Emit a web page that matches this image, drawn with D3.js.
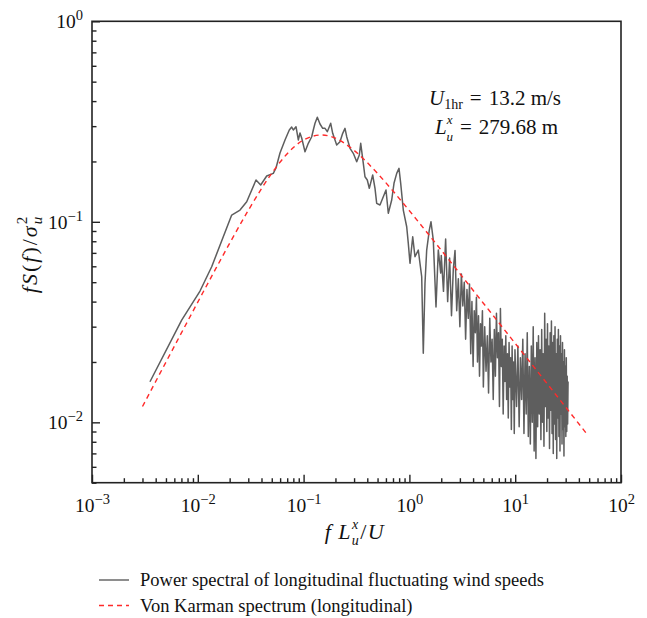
<!DOCTYPE html>
<html><head><meta charset="utf-8">
<script src="https://cdn.jsdelivr.net/npm/d3@7/dist/d3.min.js"></script>
<style>html,body{margin:0;padding:0;background:#fff;}svg{display:block;}</style>
</head><body>
<svg id="chart" width="647" height="618"></svg>
<script>
// ---- data ----
const xTickExps = [-3, -2, -1, 0, 1, 2];
const yTickExps = [-2, -1, 0];
const minorMults = [2, 3, 4, 5, 6, 7, 8, 9];

// Von Karman spectrum
const vkX = [0.003,0.005,0.007,0.01,0.015,0.02,0.03,0.04,0.05,0.07,0.1,0.15,0.2,0.3,0.5,0.7,1,1.5,2,3,5,7,10,15,20,30,48];
const vkY = [0.01199,0.01997,0.02792,0.03977,0.05921,0.07816,0.11398,0.14631,0.17460,0.21846,0.25605,0.27122,0.26116,0.22708,0.17424,0.14235,0.11357,0.08725,0.07218,0.05517,0.03928,0.03141,0.02476,0.01890,0.01561,0.01191,0.00870];

// Measured spectrum, low / mid frequency part
const specLowX = [0.00353,0.00704,0.01049,0.01353,0.02091,0.02506,0.02899,0.03549,0.03930,0.04479,0.05171,0.05483,0.05982,0.06673,0.07325,0.07718,0.07991,0.08477,0.08913,0.09247,0.09594,0.1031,0.1108,0.1193,0.1235,0.1282,0.1348,0.1429,0.1516,0.1594,0.1675,0.1804,0.1884,0.2055,0.2208,0.2342,0.2462,0.2555,0.2746,0.2950,0.3177,0.3362,0.3466,0.3667,0.3804,0.4000,0.4178,0.4498,0.4730,0.4908,0.5273,0.5666,0.6009,0.6318,0.6803,0.7152,0.7586,0.7975,0.8275,0.8757,0.9430,0.9763,1.013,1.075,1.129,1.214,1.259,1.307,1.353,1.404,1.457,1.542,1.600,1.682,1.784,1.876,1.976];
const specLowY = [0.01594,0.03237,0.04517,0.05972,0.1081,0.1145,0.1259,0.1616,0.1526,0.1692,0.1745,0.1855,0.2203,0.2559,0.2870,0.2970,0.2870,0.2980,0.2559,0.2773,0.2618,0.2236,0.2463,0.2657,0.2870,0.3100,0.3321,0.3075,0.2926,0.2926,0.2815,0.3100,0.2763,0.2415,0.2509,0.2763,0.2926,0.2657,0.2326,0.2196,0.1994,0.2154,0.2463,0.1958,0.1678,0.1616,0.1469,0.1712,0.1469,0.1237,0.1213,0.1334,0.1441,0.1103,0.1285,0.1556,0.1745,0.1848,0.1556,0.1145,0.0945,0.0781,0.0621,0.0842,0.0670,0.0723,0.0621,0.0532,0.0221,0.0494,0.0723,0.0910,0.1001,0.0811,0.0376,0.0723,0.0555];

// Measured spectrum, high frequency noisy band
const specHighX = [2.0,2.1,2.2,2.3,2.4,2.5,2.6,2.7,2.8,2.9,3.0,3.1,3.2,3.3,3.4,3.5,3.6,3.7,3.8,3.9,4.0,4.1,4.2,4.3,4.4,4.5,4.6,4.7,4.8,4.9,5.0,
5.15,5.3,5.45,5.6,5.75,5.9,6.05,6.2,6.35,6.5,6.65,6.8,6.95,7.1,7.25,7.4,7.55,7.7,7.85,8.0,8.15,8.3,8.45,8.6,8.75,8.9,9.05,9.2,9.35,9.5,9.65,9.8,9.95,
10.3,10.6,10.9,11.2,11.5,11.8,12.1,12.4,12.7,13.0,13.3,13.6,13.9,14.2,14.5,14.8,15.1,15.4,15.7,16.0,16.3,16.6,16.9,17.2,17.5,17.8,18.1,18.4,18.7,19.0,19.3,19.6,19.9,20.2,20.5,20.8,21.1,21.4,21.7,22.0,22.3,22.6,22.9,23.2,23.5,23.8,24.1,24.4,24.7,25.0,25.3,25.6,25.9,26.2,26.5,26.8,27.1,27.4,27.7,28.0,28.3,28.6,28.9,29.2,29.5,29.8,30.1,30.4,30.7,31.0,31.3,31.6];
const specHighY = [0.068,0.045,0.082,0.040,0.066,0.034,0.058,0.072,0.036,0.052,0.030,0.055,0.038,0.050,0.026,0.046,0.033,0.049,0.022,0.040,0.019,0.036,0.028,0.042,0.020,0.034,0.017,0.031,0.024,0.036,0.015,
0.030,0.018,0.027,0.014,0.033,0.020,0.026,0.013,0.029,0.017,0.035,0.021,0.028,0.012,0.037,0.019,0.026,0.011,0.024,0.016,0.027,0.013,0.022,0.0105,0.025,0.015,0.021,0.0092,0.024,0.013,0.020,0.0088,0.023,
0.012,0.024,0.0095,0.021,0.013,0.026,0.0088,0.022,0.011,0.028,0.0085,0.019,0.0078,0.024,0.010,0.030,0.0072,0.021,0.0066,0.025,0.0095,0.027,0.011,0.023,0.0082,0.029,0.010,0.022,0.0076,0.035,0.012,0.026,0.0090,0.031,0.0105,0.024,0.0074,0.028,0.0115,0.032,0.0088,0.025,0.0070,0.027,0.0098,0.030,0.0082,0.022,0.0066,0.026,0.0105,0.029,0.0085,0.024,0.0072,0.027,0.0110,0.022,0.0078,0.025,0.0092,0.020,0.0068,0.023,0.0095,0.019,0.0085,0.021,0.0090,0.017,0.0098,0.016];

const legendLabels = ["Power spectral of longitudinal fluctuating wind speeds", "Von Karman spectrum (longitudinal)"];

// ---- chart ----
const FONT = "'Liberation Serif', 'Times New Roman', serif";
const svg = d3.select("#chart");
const x = d3.scaleLog().domain([1e-3, 1e2]).range([92, 621]);
const y = d3.scaleLog().domain([5e-3, 1]).range([482.7, 21.3]);

const xMajor = xTickExps.map(e => Math.pow(10, e));
const yMajor = yTickExps.map(e => Math.pow(10, e));
const xMinor = [];
xTickExps.slice(0, -1).forEach(e => minorMults.forEach(m => xMinor.push(m * Math.pow(10, e))));
const yMinor = [];
[-3, -2, -1].forEach(e => minorMults.forEach(m => { const v = m * Math.pow(10, e); if (v >= 5e-3 && v < 1) yMinor.push(v); }));

function expLabel(sel, e) {
  sel.text(null);
  sel.append("tspan").text("10");
  sel.append("tspan").attr("dy", -8).attr("font-size", 14.5).text(e < 0 ? "\u2212" + Math.abs(e) : String(e));
}

const y0 = y.range()[0];
svg.append("g").attr("transform", `translate(0,${y0})`)
  .call(d3.axisBottom(x).tickValues(xMinor).tickSize(-4.5).tickFormat(""))
  .call(g => g.select(".domain").remove());
const gx = svg.append("g").attr("transform", `translate(0,${y0})`)
  .call(d3.axisBottom(x).tickValues(xMajor).tickSize(-8).tickPadding(15.5).tickFormat(d => d));
gx.select(".domain").remove();
gx.selectAll(".tick text").each(function(d){ expLabel(d3.select(this), Math.round(Math.log10(d))); })
  .attr("font-family", FONT).attr("font-size", 19.5).attr("fill", "#111");

svg.append("g").attr("transform", `translate(${x.range()[0]},0)`)
  .call(d3.axisLeft(y).tickValues(yMinor).tickSize(-4.5).tickFormat(""))
  .call(g => g.select(".domain").remove());
const gy = svg.append("g").attr("transform", `translate(${x.range()[0]},0)`)
  .call(d3.axisLeft(y).tickValues(yMajor).tickSize(-8).tickPadding(9).tickFormat(d => d));
gy.select(".domain").remove();
gy.selectAll(".tick text").each(function(d){ expLabel(d3.select(this), Math.round(Math.log10(d))); })
  .attr("font-family", FONT).attr("font-size", 19.5).attr("fill", "#111");

svg.selectAll(".tick line").attr("stroke", "#222").attr("stroke-width", 1.4);

svg.append("rect")
  .attr("x", x.range()[0]).attr("y", y.range()[1])
  .attr("width", x.range()[1] - x.range()[0]).attr("height", y.range()[0] - y.range()[1])
  .attr("fill", "none").attr("stroke", "#222").attr("stroke-width", 1.6);

// series
const specX = specLowX.concat(specHighX);
const specY = specLowY.concat(specHighY);
const spec = specX.map((v, i) => [v, specY[i]]);
const vk = vkX.map((v, i) => [v, vkY[i]]);

svg.append("path").datum(spec)
  .attr("d", d3.line().x(d => x(d[0])).y(d => y(d[1])))
  .attr("fill", "none").attr("stroke", "#5e5e5e").attr("stroke-width", 1.5).attr("stroke-linejoin", "round");

svg.append("path").datum(vk)
  .attr("d", d3.line().curve(d3.curveMonotoneX).x(d => x(d[0])).y(d => y(d[1])))
  .attr("fill", "none").attr("stroke", "#ff2a2a").attr("stroke-width", 1.4).attr("stroke-dasharray", "5,4");

// annotation
const a1 = svg.append("text").attr("x", 429).attr("y", 105).attr("font-family", FONT).attr("font-size", 21).attr("fill", "#111");
a1.append("tspan").attr("font-style", "italic").text("U");
a1.append("tspan").attr("font-size", 14).attr("dy", 4).text("1hr");
a1.append("tspan").attr("dy", -4).text("\u2004=\u200413.2 m/s");
const a2 = svg.append("text").attr("x", 435).attr("y", 134).attr("font-family", FONT).attr("font-size", 21).attr("fill", "#111");
a2.append("tspan").attr("font-style", "italic").text("L");
a2.append("tspan").attr("font-style", "italic").attr("font-size", 13).attr("dy", -10).text("x");
a2.append("tspan").attr("font-style", "italic").attr("font-size", 13).attr("dx", -6).attr("dy", 17).text("u");
a2.append("tspan").attr("dy", -7).text("\u2004=\u2004279.68 m");

// axis titles
const xt = svg.append("text").attr("x", 355).attr("y", 539).attr("text-anchor", "middle")
  .attr("font-family", FONT).attr("font-size", 22).attr("letter-spacing", 1.5).attr("fill", "#111");
xt.append("tspan").attr("font-style", "italic").text("f\u2009L");
xt.append("tspan").attr("font-style", "italic").attr("font-size", 14).attr("dy", -10).text("x");
xt.append("tspan").attr("font-style", "italic").attr("font-size", 14).attr("dx", -8).attr("dy", 16).text("u");
xt.append("tspan").attr("dy", -6).text("/");
xt.append("tspan").attr("font-style", "italic").text("U");

const yt = svg.append("text").attr("transform", "translate(37,254) rotate(-90)").attr("text-anchor", "middle")
  .attr("font-family", FONT).attr("font-size", 22).attr("letter-spacing", 2).attr("fill", "#111");
yt.append("tspan").attr("font-style", "italic").text("fS");
yt.append("tspan").text("(");
yt.append("tspan").attr("font-style", "italic").text("f");
yt.append("tspan").text(")/");
yt.append("tspan").attr("font-style", "italic").text("\u03c3");
yt.append("tspan").attr("font-style", "italic").attr("font-size", 15).attr("dy", 5).text("u");
yt.append("tspan").attr("font-size", 15).attr("dx", -9.5).attr("dy", -15).text("2");

// legend
const lg = svg.append("g");
lg.append("line").attr("x1", 99).attr("x2", 129).attr("y1", 580).attr("y2", 580)
  .attr("stroke", "#5e5e5e").attr("stroke-width", 1.4);
lg.append("line").attr("x1", 99).attr("x2", 129).attr("y1", 605.5).attr("y2", 605.5)
  .attr("stroke", "#ff2a2a").attr("stroke-width", 1.4).attr("stroke-dasharray", "5,4");
lg.selectAll("text.lab").data(legendLabels).join("text").attr("class", "lab")
  .attr("x", 140).attr("y", (d, i) => 586 + i * 25.5)
  .attr("font-family", FONT).attr("font-size", 18.5).attr("fill", "#111").text(d => d);
</script>
</body></html>
